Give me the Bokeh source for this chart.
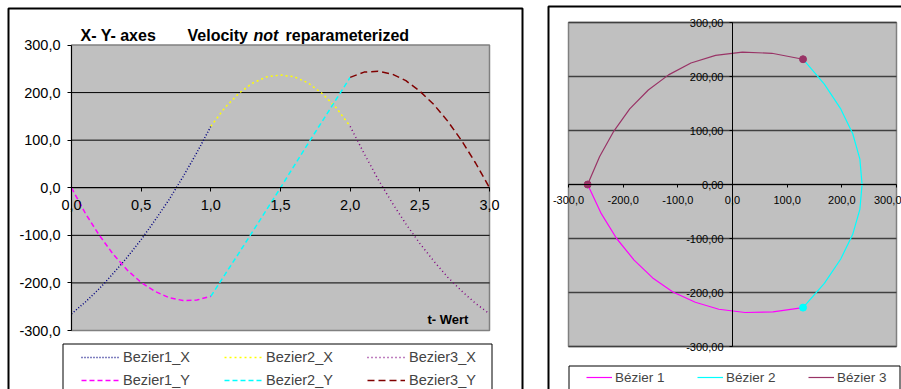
from bokeh.plotting import figure
from bokeh.models import (Range1d, LinearAxis, FixedTicker, Legend, LegendItem,
                          BoxAnnotation, Label)
from bokeh.layouts import row
from bokeh.embed import file_html
from bokeh.resources import INLINE

FONT = "Liberation Sans"

# Parameter t of the three cubic Bézier segments
T1 = [0.0, 0.1, 0.2, 0.3, 0.4, 0.5, 0.6, 0.7, 0.8, 0.9, 1.0]
T2 = [1.0, 1.1, 1.2, 1.3, 1.4, 1.5, 1.6, 1.7, 1.8, 1.9, 2.0]
T3 = [2.0, 2.1, 2.2, 2.3, 2.4, 2.5, 2.6, 2.7, 2.8, 2.9, 3.0]

# Sampled x / y coordinates of each segment
B1_X = [-265, -240, -212, -180, -146, -109, -68, -25, 23, 74, 129]
B1_Y = [0, -54, -100, -140, -173, -199, -218, -231, -237, -236, -228]
B2_X = [129, 168, 198, 220, 233, 237, 233, 220, 198, 168, 129]
B2_Y = [-228, -183, -138, -92, -46, 0, 47, 94, 140, 186, 232]
B3_X = [129, 72, 18, -31, -76, -117, -154, -188, -217, -243, -265]
B3_Y = [232, 243, 245, 239, 225, 203, 175, 140, 99, 52, 0]

# Axis extents, tick positions and their labels (decimal comma)
T_RANGE = (0, 3)
VAL_RANGE = (-300, 300)
LEFT_X_TICKS = [0, 0.5, 1, 1.5, 2, 2.5, 3]
LEFT_X_LABELS = ["0,0", "0,5", "1,0", "1,5", "2,0", "2,5", "3,0"]
VAL_TICKS = [-300, -200, -100, 0, 100, 200, 300]
LEFT_Y_LABELS = ["-300,0", "-200,0", "-100,0", "0,0", "100,0", "200,0", "300,0"]
RIGHT_X_LABELS = ["-300,0", "-200,0", "-100,0", "0,0", "100,0", "200,0", "300,0"]
RIGHT_Y_LABELS = ["-300,00", "-200,00", "-100,00", "0,00", "100,00", "200,00", "300,00"]
LEFT_GRID = [-200, -100, 0, 100, 200]
RIGHT_GRID = [-300, -200, -100, 0, 100, 200, 300]

LEFT_NAMES = ["Bezier1_X", "Bezier2_X", "Bezier3_X", "Bezier1_Y", "Bezier2_Y", "Bezier3_Y"]
RIGHT_NAMES = ["Bézier 1", "Bézier 2", "Bézier 3"]

H = 389


def extent(v0, v1, p0, p1, size):
    """Range whose value v0 sits at pixel p0 and v1 at pixel p1 on a canvas of `size` px."""
    k = (v1 - v0) / (p1 - p0)
    a = v0 - p0 * k
    b = v0 + (size - p0) * k
    return Range1d(min(a, b), max(a, b))


def style_axis(ax, size, tick_out, standoff):
    ax.major_label_text_font = FONT
    ax.major_label_text_font_size = size
    ax.major_label_text_color = "black"
    ax.axis_line_color = "black"
    ax.axis_line_width = 1
    ax.major_tick_line_color = "black"
    ax.major_tick_in = 0
    ax.major_tick_out = tick_out
    ax.minor_tick_line_color = None
    ax.major_label_standoff = standoff


def screen_box(p, left, right, top, bottom, **kw):
    # canvas pixels (origin top-left) to screen units (origin bottom-left)
    box = BoxAnnotation(left=left, right=right, top=H - top, bottom=H - bottom,
                        left_units="screen", right_units="screen",
                        top_units="screen", bottom_units="screen",
                        line_alpha=1, **kw)
    p.add_layout(box)
    return box


def plot_area(p, xr, yr):
    p.add_layout(BoxAnnotation(left=xr[0], right=xr[1], bottom=yr[0], top=yr[1],
                               fill_color="#C0C0C0", fill_alpha=1, line_color="#808080",
                               line_alpha=1, line_width=1.5, level="underlay"))


def make_figure(width, xr, yr):
    p = figure(width=width, height=H, output_backend="svg", toolbar_location=None,
               x_range=xr, y_range=yr, x_axis_location=None, y_axis_location=None,
               min_border=0, background_fill_color="white", border_fill_color="white",
               outline_line_color=None)
    p.grid.visible = False
    return p


# ---------------- left chart: x(t) and y(t) ----------------
p1 = make_figure(540, extent(0, 3, 71, 489, 540), extent(300, -300, 44.5, 330, H))

plot_area(p1, T_RANGE, VAL_RANGE)
p1.segment(x0=[T_RANGE[0]] * len(LEFT_GRID), x1=[T_RANGE[1]] * len(LEFT_GRID),
           y0=LEFT_GRID, y1=LEFT_GRID, line_color="black", line_width=1)

yax1 = LinearAxis(fixed_location=T_RANGE[0], bounds=VAL_RANGE, ticker=FixedTicker(ticks=VAL_TICKS),
                  major_label_overrides=dict(zip(VAL_TICKS, LEFT_Y_LABELS)))
style_axis(yax1, "14.5px", 4, 7)
p1.add_layout(yax1, "left")
xax1 = LinearAxis(fixed_location=0, bounds=T_RANGE, ticker=FixedTicker(ticks=LEFT_X_TICKS),
                  major_label_overrides=dict(zip(LEFT_X_TICKS, LEFT_X_LABELS)))
style_axis(xax1, "14.5px", 4, 8)
p1.add_layout(xax1, "below")

r1x = p1.line(T1, B1_X, line_color="#000080", line_dash="1 2", line_width=1.5)
r2x = p1.line(T2, B2_X, line_color="#FFFF00", line_dash="2 3", line_width=1.5)
r3x = p1.line(T3, B3_X, line_color="#800080", line_dash="1 3", line_width=1.5)
r1y = p1.line(T1, B1_Y, line_color="#FF00FF", line_dash="5 3", line_width=1.5)
r2y = p1.line(T2, B2_Y, line_color="#00FFFF", line_dash="5 3", line_width=1.5)
r3y = p1.line(T3, B3_Y, line_color="#800000", line_dash="7 4", line_width=1.5)

# chart border and legend frame
screen_box(p1, 8, 522, 8, 430, fill_color=None, line_color="black", line_width=2)
screen_box(p1, 62.5, 491.5, 343.5, 430, fill_color="white", fill_alpha=1,
           line_color="black", line_width=1)

for txt, x, style in [("X- Y- axes", 80, "bold"), ("Velocity", 187, "bold"),
                      ("not", 253, "bold italic"), ("reparameterized", 285, "bold")]:
    p1.add_layout(Label(x=x, y=H - 35, x_units="screen", y_units="screen",
                        text=txt, text_font=FONT, text_font_size="16px",
                        text_font_style=style, text_baseline="alphabetic",
                        text_color="black"))
p1.add_layout(Label(x=427, y=H - 319, x_units="screen", y_units="screen",
                    text="t- Wert", text_font=FONT, text_font_size="13px",
                    text_font_style="bold", text_baseline="alphabetic", text_color="black"))

left_renderers = [r1x, r2x, r3x, r1y, r2y, r3y]
leg1 = Legend(items=[LegendItem(label=n, renderers=[r]) for n, r in zip(LEFT_NAMES, left_renderers)],
              orientation="horizontal", ncols=3, location=(81, 0),
              padding=0, margin=0, spacing=5, glyph_width=38, glyph_height=18,
              label_height=18, label_width=96, label_standoff=4,
              border_line_color=None, background_fill_alpha=0,
              label_text_font=FONT, label_text_font_size="14.5px")
p1.add_layout(leg1, "center")

# ---------------- right chart: y against x ----------------
p2 = make_figure(361, extent(-300, 300, 28, 356, 361), extent(300, -300, 22, 346, H))

plot_area(p2, VAL_RANGE, VAL_RANGE)
p2.segment(x0=[VAL_RANGE[0]] * len(RIGHT_GRID), x1=[VAL_RANGE[1]] * len(RIGHT_GRID),
           y0=RIGHT_GRID, y1=RIGHT_GRID, line_color="#404040", line_width=1.5)

yax2 = LinearAxis(fixed_location=0, bounds=VAL_RANGE, ticker=FixedTicker(ticks=VAL_TICKS),
                  major_label_overrides=dict(zip(VAL_TICKS, RIGHT_Y_LABELS)))
style_axis(yax2, "11px", 3, 6)
p2.add_layout(yax2, "left")
xax2 = LinearAxis(fixed_location=0, bounds=VAL_RANGE, ticker=FixedTicker(ticks=VAL_TICKS),
                  major_label_overrides=dict(zip(VAL_TICKS, RIGHT_X_LABELS)))
style_axis(xax2, "11px", 3, 8)
p2.add_layout(xax2, "below")

q1 = p2.line(B1_X, B1_Y, line_color="#FF00FF", line_width=1.2)
q2 = p2.line(B2_X, B2_Y, line_color="#00FFFF", line_width=1.2)
q3 = p2.line(B3_X, B3_Y, line_color="#993366", line_width=1.2)
p2.scatter([B2_X[0]], [B2_Y[0]], size=7, color="#00FFFF")
p2.scatter([B3_X[0], B3_X[-1]], [B3_Y[0], B3_Y[-1]], size=7, color="#993366")

screen_box(p2, 8, 460, 6, 430, fill_color=None, line_color="black", line_width=2)
screen_box(p2, 28.5, 359.5, 365.5, 430, fill_color="white", fill_alpha=1,
           line_color="black", line_width=1)

leg2 = Legend(items=[LegendItem(label=n, renderers=[r]) for n, r in zip(RIGHT_NAMES, [q1, q2, q3])],
              orientation="horizontal", location=(46, H - 386),
              padding=0, margin=0, spacing=2, glyph_width=26, glyph_height=18,
              label_height=18, label_width=80, label_standoff=3,
              border_line_color=None, background_fill_alpha=0,
              label_text_font=FONT, label_text_font_size="13.5px")
p2.add_layout(leg2, "center")

layout = row(p1, p2)
open("out.html", "w").write(file_html(layout, INLINE))
